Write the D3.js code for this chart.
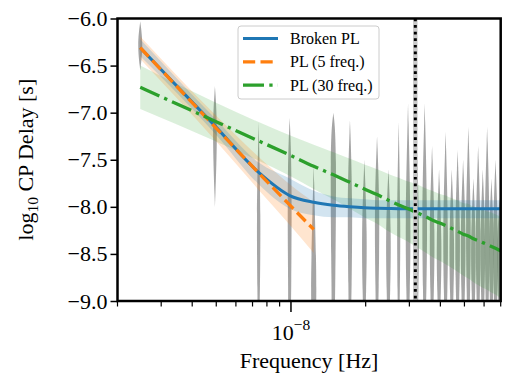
<!DOCTYPE html>
<html><head><meta charset="utf-8">
<script src="https://cdn.jsdelivr.net/npm/d3@7"></script>
<style>
body{margin:0;background:#fff}
svg{display:block}
text{font-family:"Liberation Serif","Times New Roman",serif !important;fill:#000}
</style>
</head><body><svg id="c" width="514" height="380"></svg>
<script>
// ---- data (frequencies in nHz) ----
const freqNHz = [2.47,4.94,7.41,9.88,12.35,14.82,17.29,19.76,22.23,24.70,27.17,29.64,32.11,34.58,37.05,
                 39.52,41.99,44.46,46.93,49.40,51.87,54.34,56.81,59.28,61.75,64.22,66.69,69.16,71.63,74.10];
const brokenPL   = [-6.31,-7.14,-7.635,-7.88,-7.952,-7.984,-8.00,-8.01,-8.015,-8.018,-8.02,-8.02,-8.02,-8.02,-8.02,
                    -8.02,-8.02,-8.02,-8.02,-8.02,-8.02,-8.02,-8.02,-8.02,-8.02,-8.02,-8.02,-8.02,-8.02,-8.02];
const brokenHi   = [-6.22,-7.06,-7.53,-7.70,-7.83,-7.89,-7.91,-7.92,-7.93,-7.93,-7.93,-7.93,-7.93,-7.93,-7.93,
                    -7.93,-7.93,-7.93,-7.93,-7.93,-7.93,-7.93,-7.93,-7.93,-7.93,-7.93,-7.93,-7.93,-7.93,-7.93];
const brokenLo   = [-6.40,-7.22,-7.76,-8.02,-8.09,-8.11,-8.11,-8.12,-8.12,-8.12,-8.12,-8.12,-8.12,-8.12,-8.12,
                    -8.12,-8.12,-8.12,-8.12,-8.12,-8.12,-8.12,-8.12,-8.12,-8.12,-8.12,-8.12,-8.12,-8.12,-8.12];
const pl5   = [-6.31,-7.15,-7.64,-7.98,-8.24];
const pl5Hi = [-6.19,-7.02,-7.47,-7.76,-7.95];
const pl5Lo = [-6.43,-7.29,-7.82,-8.19,-8.49];
const pl30   = [-6.73,-7.09,-7.30,-7.45,-7.57,-7.66,-7.74,-7.81,-7.87,-7.93,-7.98,-8.02,-8.06,-8.10,-8.14,
                -8.17,-8.20,-8.23,-8.26,-8.29,-8.31,-8.34,-8.36,-8.38,-8.40,-8.42,-8.44,-8.46,-8.48,-8.50];
const pl30Hi = [-6.50,-6.89,-7.10,-7.24,-7.34,-7.42,-7.49,-7.55,-7.60,-7.65,-7.69,-7.73,-7.76,-7.80,-7.83,
                -7.86,-7.88,-7.91,-7.93,-7.96,-7.97,-8.00,-8.01,-8.03,-8.05,-8.06,-8.08,-8.10,-8.11,-8.13];
const pl30Lo = [-6.96,-7.30,-7.51,-7.67,-7.81,-7.92,-8.02,-8.11,-8.18,-8.26,-8.32,-8.37,-8.43,-8.48,-8.53,
                -8.57,-8.61,-8.65,-8.69,-8.73,-8.76,-8.80,-8.83,-8.86,-8.88,-8.91,-8.93,-8.96,-8.98,-9.01];
// free-spectrum violins: upper end, mode, lower end, relative peak density, relative density at lower end
const violinTop    = [-6.03,-6.72,-7.10,-7.05,-7.55,-7.00,-7.08,-7.50,-7.25,-7.60,-7.10,-6.90,-7.30,-6.90,-7.35,
                      -7.60,-7.20,-7.60,-7.40,-7.50,-7.15,-7.70,-7.35,-7.60,-7.15,-7.70,-7.50,-7.90,-7.50,-7.60];
const violinPeak   = [-6.28,-7.17,-8.10,-7.65,-8.70,-7.30,-7.90,-8.30,-8.00,-8.30,-8.20,-8.20,-8.20,-8.10,-8.30,
                      -8.40,-8.30,-8.40,-8.30,-8.30,-8.20,-8.40,-8.30,-8.40,-8.20,-8.40,-8.30,-8.50,-8.40,-8.40];
const violinBottom = [-6.55,-8.00,-9,-9,-9,-9,-9,-9,-9,-9,-9,-9,-9,-9,-9,-9,-9,-9,-9,-9,-9,-9,-9,-9,-9,-9,-9,-9,-9,-9];
const violinDens   = [0.75,0.7,0.55,0.6,0.7,0.85,0.7,0.75,0.7,0.75,0.5,0.75,0.75,0.75,0.75,0.75,0.75,0.75,0.75,0.75,0.75,0.75,0.75,0.75,0.75,0.75,0.75,0.75,0.75,0.75];
const violinBase   = [0,0,0.5,0.6,0.9,0.5,0.5,0.5,0.5,0.5,0.5,0.5,0.5,0.5,0.5,0.5,0.5,0.5,0.5,0.5,0.5,0.5,0.5,0.5,0.5,0.5,0.5,0.5,0.5,0.5];
const yTicks = [-6.0,-6.5,-7.0,-7.5,-8.0,-8.5,-9.0];
const oneYearNHz = 31.7;
const legendLabels = ["Broken PL","PL (5 freq.)","PL (30 freq.)"];
const xLabel = "Frequency [Hz]";

// ---- layout ----
const svg = d3.select("#c");
const L = 117.5, R = 500.7, T = 18.5, B = 301;
const x = d3.scaleLog().domain([2e-9, 7e-8]).range([L, R]);
const y = d3.scaleLinear().domain([-9, -6]).range([B, T]);
const fx = i => x(freqNHz[i] * 1e-9);
const col = {blue:"#1f77b4", orange:"#ff7f0e", green:"#2ca02c"};
const SERIF = '"Liberation Serif","Times New Roman",serif';

svg.append("defs").append("clipPath").attr("id","clip")
  .append("rect").attr("x",L).attr("y",T).attr("width",R-L).attr("height",B-T);
const plot = svg.append("g").attr("clip-path","url(#clip)");

// violins
const vw = 4.0;
const vArea = d3.area().y(d => y(d[0])).x0(d => d[2] - d[1]*vw).x1(d => d[2] + d[1]*vw).curve(d3.curveBasis);
freqNHz.forEach((f, i) => {
  const cx = fx(i);
  const pts = [[violinBottom[i], violinDens[i]*violinBase[i], cx],
               [violinBottom[i], violinDens[i]*violinBase[i], cx],
               [violinPeak[i], violinDens[i], cx],
               [violinTop[i], 0, cx],
               [violinTop[i], 0, cx]];
  plot.append("path").attr("d", vArea(pts)).attr("fill","#7a7a7a").attr("fill-opacity",0.68);
});

// bands
function band(lo, hi, color, op) {
  const a = d3.area().x((d,i) => fx(i)).y0((d,i) => y(lo[i])).y1((d,i) => y(hi[i])).curve(d3.curveMonotoneX);
  plot.append("path").attr("d", a(lo)).attr("fill", color).attr("fill-opacity", op);
}
band(pl30Lo, pl30Hi, col.green, 0.17);
band(pl5Lo, pl5Hi, col.orange, 0.2);
band(brokenLo, brokenHi, col.blue, 0.2);

// lines
const ln = d3.line().x((d,i) => fx(i)).y(d => y(d)).curve(d3.curveMonotoneX);
plot.append("path").attr("d", ln(brokenPL)).attr("fill","none").attr("stroke",col.blue).attr("stroke-width",3);
plot.append("path").attr("d", ln(pl5)).attr("fill","none").attr("stroke",col.orange).attr("stroke-width",3.3)
  .attr("stroke-dasharray","12.2,5.3");
plot.append("path").attr("d", ln(pl30)).attr("fill","none").attr("stroke",col.green).attr("stroke-width",3.3)
  .attr("stroke-dasharray","21,5.3,3.3,5.3");

// 1/yr line
const xy = x(oneYearNHz*1e-9);
plot.append("line").attr("x1",xy).attr("x2",xy).attr("y1",T).attr("y2",B).attr("stroke","#c8c8c8").attr("stroke-width",4.5);
plot.append("line").attr("x1",xy).attr("x2",xy).attr("y1",T).attr("y2",B).attr("stroke","#000").attr("stroke-width",3)
  .attr("stroke-dasharray","2.7,3.9");

// frame
svg.append("rect").attr("x",L).attr("y",T).attr("width",R-L).attr("height",B-T)
  .attr("fill","none").attr("stroke","#000").attr("stroke-width",2.5);

// y axis
const yAx = svg.append("g").attr("transform",`translate(${L},0)`)
  .call(d3.axisLeft(y).tickValues(yTicks).tickSize(7).tickPadding(3).tickFormat(d3.format(".1f")));
yAx.attr("font-family", null).attr("font-size", null);
yAx.select(".domain").remove();
yAx.selectAll("line").attr("stroke-width",1.5);
yAx.selectAll("text").style("font-size","22px").style("font-family",SERIF);

// x axis (minor + major ticks)
const xTicks = x.ticks();
const xAx = svg.append("g").attr("transform",`translate(0,${B})`);
xTicks.forEach(t => {
  const major = Math.abs(Math.log10(t) - Math.round(Math.log10(t))) < 1e-6;
  xAx.append("line").attr("x1",x(t)).attr("x2",x(t)).attr("y1",0).attr("y2",major?11:5.5)
    .attr("stroke","#000").attr("stroke-width",major?1.5:1.2);
  if (major) {
    const tx = xAx.append("text").attr("x",x(t)).attr("y",39).attr("text-anchor","middle").style("font-size","22px");
    tx.append("tspan").text("10");
    tx.append("tspan").attr("dy",-10).style("font-size","15.5px").text("\u2212" + Math.abs(Math.round(Math.log10(t))));
  }
});
svg.append("text").attr("x",(L+R)/2).attr("y",368).attr("text-anchor","middle").style("font-size","22px").text(xLabel);

// y label
const yl = svg.append("text").attr("transform",`translate(33,${(T+B)/2}) rotate(-90)`)
  .attr("text-anchor","middle").style("font-size","22px");
yl.append("tspan").text("log");
yl.append("tspan").style("font-size","15.5px").attr("dy",5).text("10");
yl.append("tspan").attr("dy",-5).text(" CP Delay [s]");

// legend
const lg = svg.append("g");
lg.append("rect").attr("x",238).attr("y",26).attr("width",141).attr("height",73).attr("rx",3)
  .attr("fill","#fff").attr("fill-opacity",0.8).attr("stroke","#cccccc").attr("stroke-width",1);
const styles = [{c:col.blue,d:null,w:3},{c:col.orange,d:"12.2,5.3",w:3.3},{c:col.green,d:"21,5.3,3.3,5.3",w:3.3}];
legendLabels.forEach((lab, i) => {
  const yy = 38.5 + i*23.3;
  const l = lg.append("line").attr("x1",243).attr("x2",278).attr("y1",yy).attr("y2",yy)
    .attr("stroke",styles[i].c).attr("stroke-width",styles[i].w);
  if (styles[i].d) l.attr("stroke-dasharray",styles[i].d);
  lg.append("text").attr("x",290).attr("y",yy+5.5).style("font-size","16px").text(lab);
});
</script></body></html>
